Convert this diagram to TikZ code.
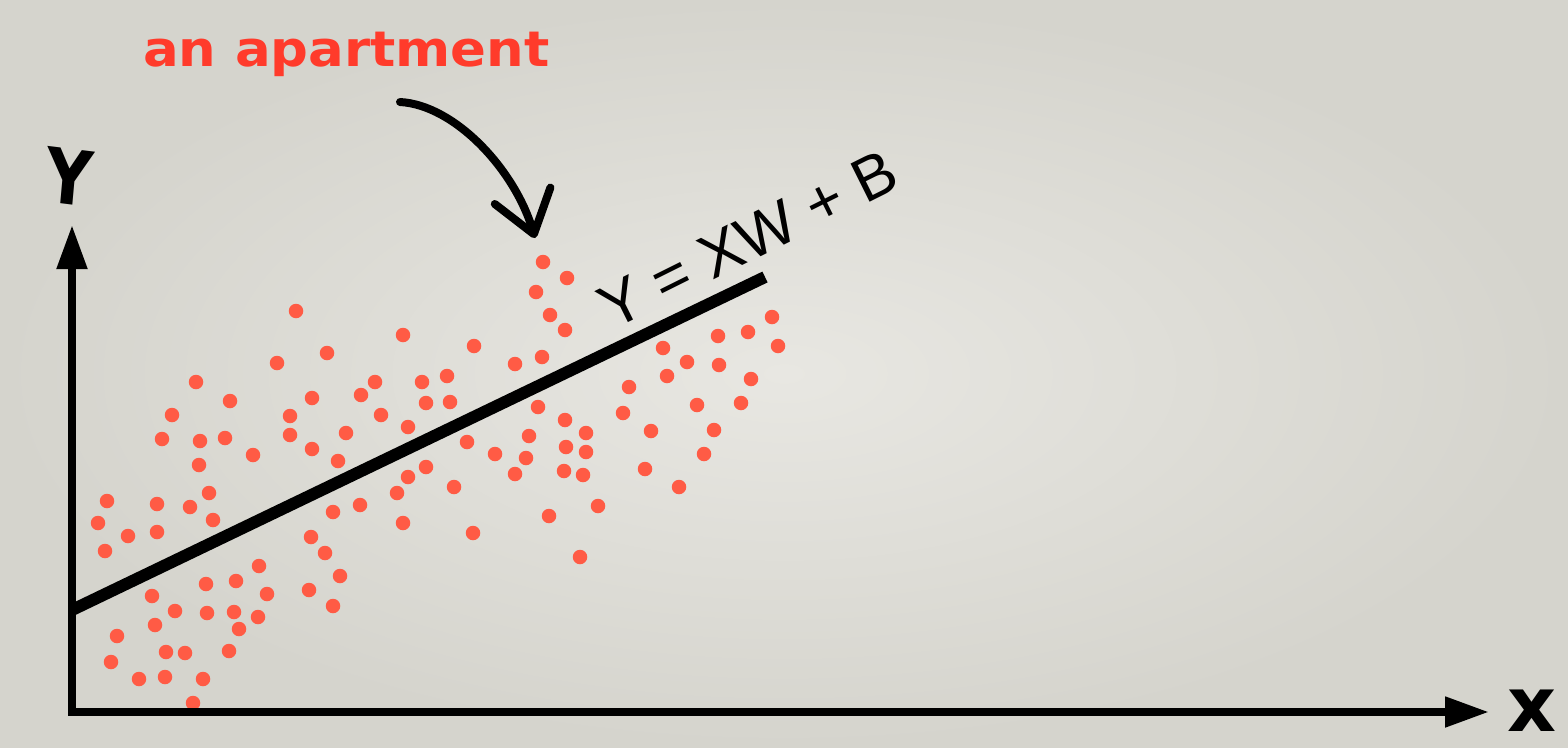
\documentclass[tikz,border=0pt]{standalone}
\usepackage{fontspec}
\setmainfont{Liberation Sans}
\newfontfamily\handfont{DejaVu Sans}
\usetikzlibrary{arrows.meta,positioning}
\definecolor{dotred}{HTML}{FF5B45}
\definecolor{notered}{HTML}{FF3B2B}
\definecolor{paperin}{HTML}{E8E7E2}
\definecolor{paperout}{HTML}{D5D4CD}

\tikzset{
  dot/.style={circle,fill=dotred,inner sep=0pt,minimum size=14.5pt},
  axis/.style={line width=8pt,-{Triangle[length=44pt,width=29pt]}},
  fitline/.style={line width=12pt},
  pointer/.style={line width=8pt,line cap=round,-{Straight Barb[length=40pt,width=58pt,round]}},
  axislabel/.style={font=\handfont\bfseries\fontsize{76}{86}\selectfont,inner sep=0pt}
}

\begin{document}
\begin{tikzpicture}[x=1pt,y=-1pt]

\useasboundingbox (0,0) rectangle (1568,747);
\shade[inner color=paperin,outer color=paperout] (0,0) rectangle (1568,747);

% the data points
\foreach \x/\y [count=\i] in {296/311,403/335,327/353,277/363,196/382,230/401,375/382,422/382,
  361/395,312/398,426/403,172/415,381/415,290/416,346/433,408/427,162/439,200/441,225/438,
  290/435,253/455,312/449,338/461,199/465,426/467,408/477,209/493,107/501,157/504,190/507,
  397/493,360/505,333/512,403/523,98/523,213/520,128/536,157/532,105/551,311/537,325/553,
  340/576,309/590,333/606,259/566,236/581,267/594,206/584,152/596,175/611,207/613,234/612,
  258/617,239/629,155/625,117/636,166/652,185/653,229/651,111/662,139/679,165/677,203/679,
  193/703,543/262,567/278,536/292,550/315,565/330,474/346,542/357,515/364,663/348,687/362,
  718/336,748/332,772/317,778/346,719/365,667/376,751/379,447/376,450/402,629/387,697/405,
  741/403,623/413,538/407,565/420,586/433,529/436,467/442,495/454,526/458,566/447,586/452,
  651/431,714/430,704/454,645/469,564/471,583/475,515/474,679/487,454/487,598/506,549/516,
  473/533,580/557}
  \node [dot] (p\i) at (\x,\y) {};

% axes
\coordinate (origin) at (72,712);
\coordinate (ytip) at (72,225);
\coordinate (xtip) at (1489,712);
\draw[axis] (origin) -- (ytip);
\draw[axis] (68,712) -- (xtip);
\node [axislabel,xscale=0.85,rotate=-6] (ylabel) at (69,177) {Y};
\node [axislabel,anchor=base] (xlabel) at (1532,731) {x};

% regression line
\coordinate (lstart) at (72,610);
\coordinate (lend) at (765,277);
\draw[fitline] (lstart) -- (lend);
\node [rotate=26.5,anchor=base west,inner sep=0pt,font=\fontsize{62}{72}\selectfont] (eq) at (612,331) {Y = XW + B};

% the annotation
\node [anchor=base west,inner sep=0pt,text=notered,xscale=1.08,font=\handfont\bfseries\fontsize{49}{58}\selectfont] (note) at (143,66) {an apartment};
\coordinate (cstart) at (400,102);
\coordinate (ctip) at (535,238);
\draw[pointer] (cstart) .. controls (455,105) and (515,170) .. (ctip);

\end{tikzpicture}
\end{document}
